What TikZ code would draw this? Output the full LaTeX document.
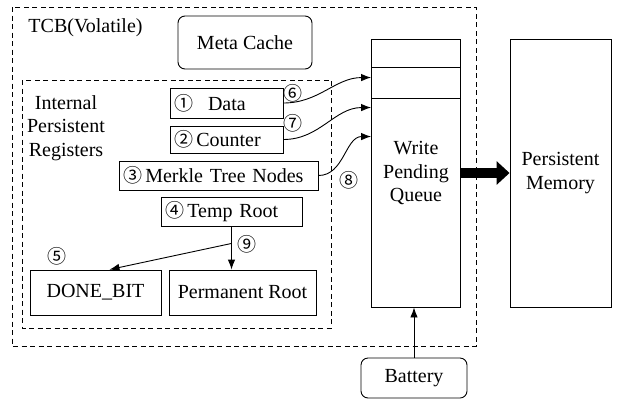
\documentclass[tikz,border=0pt]{standalone}
\usepackage{fontspec}
\setmainfont{Liberation Serif}
\newfontfamily\circfont{Noto Sans CJK SC}
\usetikzlibrary{positioning,calc,arrows.meta}
\newcommand{\cnum}[1]{{\circfont\fontsize{19}{19}\selectfont #1}}

\begin{document}
\begin{tikzpicture}[x=1pt, y=-1pt, -{Latex[length=10pt, width=7.5pt]}, line width=0.9pt, font=\rmfamily\fontsize{20}{23.5}\selectfont,
	regbox/.style={draw, rectangle, align=left, inner xsep=4pt, inner ysep=0pt},
	plainbox/.style={draw, rectangle, align=center, inner sep=0pt},
	roundbox/.style={draw, rectangle, rounded corners=7pt, align=center, inner sep=0pt},
	grpbox/.style={draw, dash pattern=on 5pt off 3.5pt, line width=0.8pt},
	tag/.style={inner sep=0pt}]
	\useasboundingbox (0,0) rectangle (617,402);
	\draw[grpbox, -] (12,7) rectangle (476,346);
	\draw[grpbox, -] (22,80) rectangle (331,328);
	\node[tag, anchor=west] (tcb) at (28,28) {TCB(Volatile)};
	\node[tag, align=center] (ipr) at (66,128) {Internal\\Persistent\\Registers};
	\node[roundbox, minimum width=134pt, minimum height=53pt] (meta) at (245,42.5) {Meta Cache};
	\node[regbox, text width=105pt, minimum height=30pt] (data) at (226.5,103) {\cnum{①}\hspace{0.75em}Data};
	\node[regbox, text width=105pt, minimum height=27pt] (ctr) at (226.5,139.5) {\cnum{②}\,Counter};
	\node[regbox, text width=191pt, minimum height=29pt] (mtn) at (218.5,175.5) {\cnum{③}\,Merkle Tree Nodes};
	\node[regbox, text width=133pt, minimum height=29pt] (temp) at (231.5,211.5) {\cnum{④}\,Temp Root};
	\node[plainbox, minimum width=131pt, minimum height=45pt] (done) at (95.5,292.5) {DONE\_BIT};
	\node[plainbox, minimum width=147pt, minimum height=45pt] (perm) at (242.5,292.5) {Permanent Root};
	\node[plainbox, minimum width=89pt, minimum height=268pt] (wpq) at (416,173) {Write\\Pending\\Queue};
	\node[plainbox, minimum width=101pt, minimum height=268pt] (pm) at (560.5,173) {Persistent\\Memory};
	\node[roundbox, minimum width=106pt, minimum height=40pt] (bat) at (414,378) {Battery};
	\draw[-] ($(wpq.north west)+(0,29)$) -- ($(wpq.north east)+(0,29)$);
	\draw[-] ($(wpq.north west)+(0,60)$) -- ($(wpq.north east)+(0,60)$);
	\coordinate (q1) at ($(wpq.north west)+(0,39)$);
	\coordinate (q2) at ($(wpq.north west)+(0,69)$);
	\coordinate (q3) at ($(wpq.north west)+(0,98)$);
	\coordinate (split) at ($(temp.south)+(0,17)$);
	\coordinate (donetop) at ($(done.north)+(14,0)$);
	\node[tag] (n6) at (293,93) {\cnum{⑥}};
	\node[tag] (n7) at (293,123) {\cnum{⑦}};
	\node[tag] (n8) at (349,180) {\cnum{⑧}};
	\node[tag] (n5) at (57,256) {\cnum{⑤}};
	\node[tag] (n9) at (247,244) {\cnum{⑨}};
	\path (data.east) edge[out=0, in=180] (q1);
	\path (ctr.east) edge[out=0, in=180] (q2);
	\path (mtn.east) edge[out=0, in=180] (q3);
	\path (temp.south) edge (temp.south |- perm.north);
	\path (split) edge (donetop);
	\path (bat.north) edge (bat.north |- wpq.south);
	\draw[-{Triangle[length=13pt, width=23pt]}, line width=10pt] (wpq.east) -- (pm.west);
\end{tikzpicture}
\end{document}
